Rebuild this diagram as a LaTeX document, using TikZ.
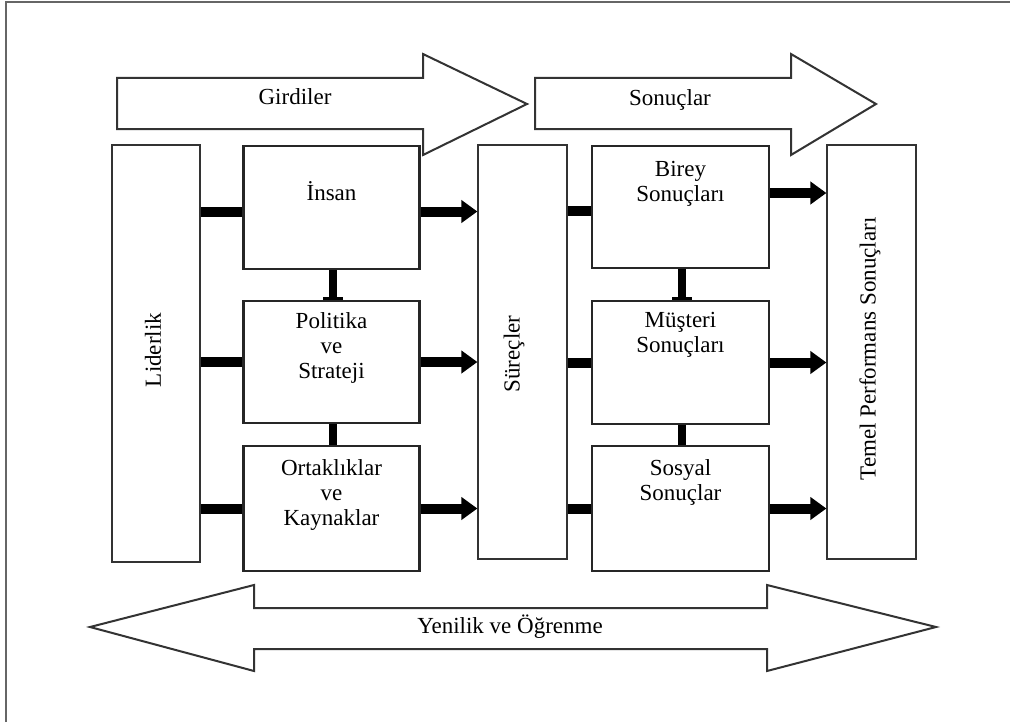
\documentclass[tikz,border=0pt]{standalone}
\usepackage{fontspec}
\setmainfont{Liberation Serif}
\usetikzlibrary{positioning,arrows.meta}
\tikzset{
  tallbox/.style={draw=black!80, line width=0.6pt, minimum width=44.5pt, minimum height=207pt, inner sep=0pt},
  itembox/.style={draw=black!85, line width=1.1pt, minimum width=88pt, minimum height=61.5pt, inner sep=0pt},
  itemtext/.style={align=center, anchor=north, inner sep=0pt, font=\fontsize{11.5}{12.5}\selectfont},
  sidetext/.style={rotate=90, inner sep=0pt, font=\fontsize{11.5}{12.5}\selectfont},
  bigarrow/.style={draw=black!80, line width=1pt, fill=white, line join=miter},
  feedbar/.style={line width=5pt},
  feedarrow/.style={line width=5pt, -{Triangle[length=8pt,width=11pt]}},
  joinbar/.style={line width=4pt},
}
\begin{document}
\begin{tikzpicture}[x=0.5pt, y=-0.5pt]
  \useasboundingbox (0,0) rectangle (1010,722);
  % frame
  \draw[black!60, line width=0.7pt] (6,722) -- (6,2) -- (1010,2);
  % top arrows
  \draw[bigarrow] (117,78) -- (423,78) -- (423,54) -- (527,104) -- (423,155) -- (423,129) -- (117,129) -- cycle;
  \draw[bigarrow] (535,78) -- (791,78) -- (791,54) -- (876,104) -- (791,155) -- (791,129) -- (535,129) -- cycle;
  \node[font=\fontsize{11.5}{12.5}\selectfont] (girdiler) at (295,97) {Girdiler};
  \node[font=\fontsize{11.5}{12.5}\selectfont] (sonuclar) at (670,100) {Sonuçlar};
  % tall boxes
  \node[tallbox, minimum width=44pt, minimum height=208.5pt] (liderlik) at (156,353.5) {};
  \node[tallbox] (surecler) at (522.5,352) {};
  \node[tallbox] (temel) at (871.5,352) {};
  \node[sidetext] (liderlikyazi) at (153,350) {Liderlik};
  \node[sidetext] (sureclerYazi) at (514,354) {Süreçler};
  \node[sidetext] (temelyazi) at (870,349) {Temel Performans Sonuçları};
  % input boxes
  \node[itembox] (insan) at (331.5,207.5) {};
  \node[itembox, minimum height=61pt] (politika) at (331.5,362) {};
  \node[itembox, minimum height=62.5pt] (ortaklik) at (331.5,508.5) {};
  \node[itemtext, below=18pt of insan.north] (insanyazi) {İnsan};
  \node[itemtext, below=6pt of politika.north] (politikayazi) {Politika\\ve\\Strateji};
  \node[itemtext, below=7pt of ortaklik.north] (ortaklikyazi) {Ortaklıklar\\ve\\Kaynaklar};
  % result boxes
  \node[itembox, minimum width=88.5pt, minimum height=61pt] (birey) at (680.5,207) {};
  \node[itembox, minimum width=88.5pt] (musteri) at (680.5,362.5) {};
  \node[itembox, minimum width=88.5pt, minimum height=62.5pt] (sosyal) at (680.5,508.5) {};
  \node[itemtext, below=8pt of birey.north] (bireyyazi) {Birey\\Sonuçları};
  \node[itemtext, below=6pt of musteri.north] (musteriyazi) {Müşteri\\Sonuçları};
  \node[itemtext, below=7pt of sosyal.north] (sosyalyazi) {Sosyal\\Sonuçlar};
  % leadership bars
  \draw[feedbar] ([yshift=-2pt]insan.west) -- ([yshift=-2pt]insan.west -| liderlik.east);
  \draw[feedbar] (politika.west) -- (politika.west -| liderlik.east);
  \draw[feedbar] (ortaklik.west) -- (ortaklik.west -| liderlik.east);
  % arrows into processes
  \draw[feedarrow] ([yshift=-2pt]insan.east) -- ([yshift=-2pt]insan.east -| surecler.west);
  \draw[feedarrow] (politika.east) -- (politika.east -| surecler.west);
  \draw[feedarrow] (ortaklik.east) -- (ortaklik.east -| surecler.west);
  % process bars
  \draw[feedbar] ([yshift=-2pt]birey.west) -- ([yshift=-2pt]birey.west -| surecler.east);
  \draw[feedbar] (musteri.west) -- (musteri.west -| surecler.east);
  \draw[feedbar] (sosyal.west) -- (sosyal.west -| surecler.east);
  % arrows into key results
  \draw[feedarrow] ([yshift=7pt]birey.east) -- ([yshift=7pt]birey.east -| temel.west);
  \draw[feedarrow] (musteri.east) -- (musteri.east -| temel.west);
  \draw[feedarrow] (sosyal.east) -- (sosyal.east -| temel.west);
  % vertical links
  \draw[joinbar, -{Bar[width=10pt, line width=1.5pt]}] ([xshift=0.75pt]insan.south) -- ([xshift=0.75pt]politika.north);
  \draw[joinbar] ([xshift=0.75pt]politika.south) -- ([xshift=0.75pt]ortaklik.north);
  \draw[joinbar, -{Bar[width=10pt, line width=1.5pt]}] ([xshift=0.75pt]birey.south) -- ([xshift=0.75pt]musteri.north);
  \draw[joinbar] ([xshift=0.75pt]musteri.south) -- ([xshift=0.75pt]sosyal.north);
  % bottom double arrow
  \draw[bigarrow] (90,627) -- (254,585) -- (254,608) -- (767,608) -- (767,585) -- (936,627) -- (767,671) -- (767,649) -- (254,649) -- (254,671) -- cycle;
  \node[font=\fontsize{11.5}{12.5}\selectfont] (yenilik) at (510,627) {Yenilik ve Öğrenme};
\end{tikzpicture}
\end{document}
